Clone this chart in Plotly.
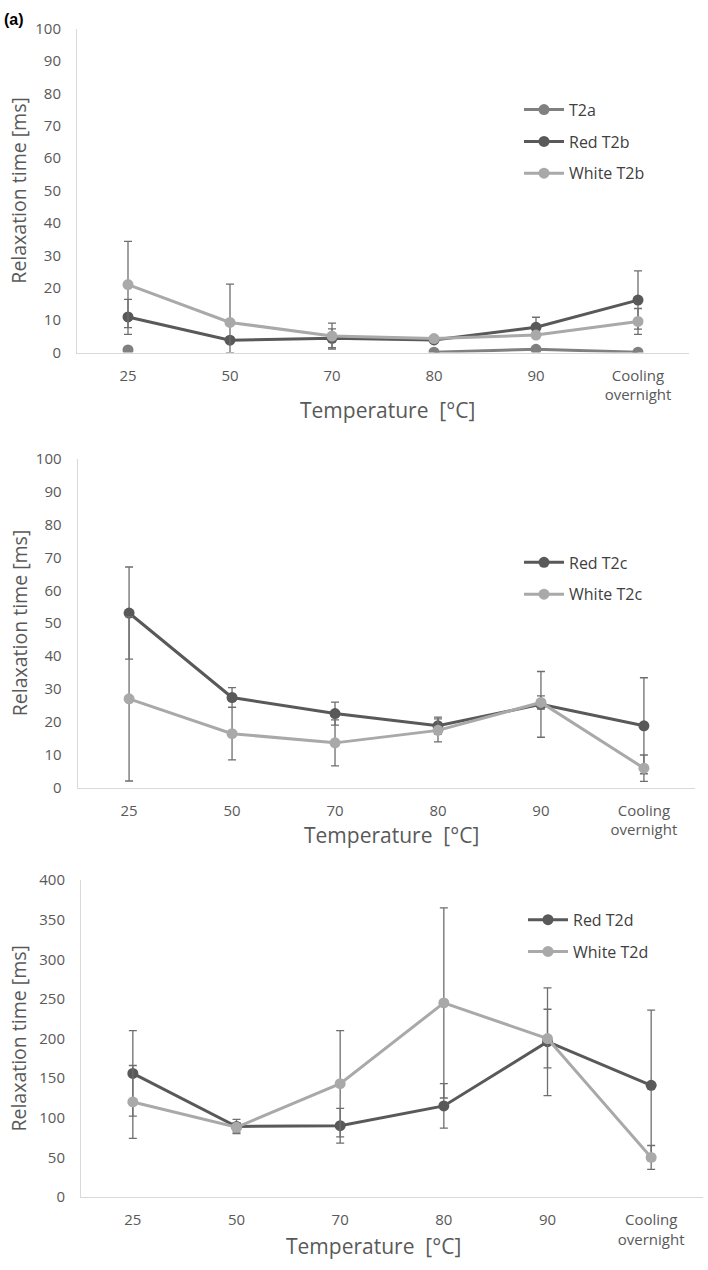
import plotly.graph_objects as go

# ---------------- data ----------------
categories = ["25", "50", "70", "80", "90", "Cooling<br>overnight"]

# panel 1
t2a = [0.8, None, None, 0.1, 1.0, 0.1]
red_t2b = [11.0, 3.8, 4.4, 3.9, 7.8, 16.2]
red_t2b_err = [5.4, 1.0, 2.9, 0.5, 3.1, 9.0]
white_t2b = [21.0, 9.3, 5.1, 4.3, 5.4, 9.6]
white_t2b_err_plus = [13.3, 11.8, 4.0, 0.5, 1.0, 4.0]
white_t2b_err_minus = [13.3, 9.3, 4.0, 0.5, 1.0, 4.0]

# panel 2
red_t2c = [53.1, 27.4, 22.5, 18.8, 25.3, 18.8]
red_t2c_err = [14.0, 3.0, 3.5, 2.6, 10.0, 14.6]
white_t2c = [27.0, 16.4, 13.6, 17.4, 25.9, 5.9]
white_t2c_err = [25.0, 8.0, 7.0, 3.5, 2.0, 4.0]

# panel 3
red_t2d = [156, 89, 90, 115, 196, 141]
red_t2d_err = [54, 9, 22, 28, 68, 95]
white_t2d = [120, 88, 143, 245, 200, 50]
white_t2d_err = [46, 6, 67, 120, 37, 15]

# ---------------- style ----------------
FONT = "Open Sans, Lato, sans-serif"
C_RED = "#595959"
C_WHITE = "#a9a9a9"
C_T2A = "#808080"
C_ERR = "#6e6e6e"
C_TEXT = "#595959"
C_AXIS = "#d9d9d9"
W, H = 708, 1270


def px_x(v):
    return v / W


def px_y(v):
    return 1 - v / H


fig = go.Figure()


def add_series(name, y, xa, ya, color, legend, group, err_plus=None, err_minus=None):
    kw = {}
    if err_plus is not None:
        kw["error_y"] = dict(
            type="data",
            symmetric=err_minus is None,
            array=err_plus,
            arrayminus=err_minus,
            color=C_ERR,
            thickness=1.3,
            width=4,
        )
    fig.add_trace(
        go.Scatter(
            x=categories,
            y=y,
            name=name,
            mode="lines+markers",
            line=dict(color=color, width=3),
            marker=dict(color=color, size=11),
            connectgaps=False,
            xaxis=xa,
            yaxis=ya,
            legend=legend,
            legendgroup=group,
            **kw,
        )
    )


add_series("T2a", t2a, "x", "y", C_T2A, "legend", "a")
add_series("Red T2b", red_t2b, "x", "y", C_RED, "legend", "b", red_t2b_err)
add_series("White T2b", white_t2b, "x", "y", C_WHITE, "legend", "c",
           white_t2b_err_plus, white_t2b_err_minus)

add_series("Red T2c", red_t2c, "x2", "y2", C_RED, "legend2", "d", red_t2c_err)
add_series("White T2c", white_t2c, "x2", "y2", C_WHITE, "legend2", "e", white_t2c_err)

add_series("Red T2d", red_t2d, "x3", "y3", C_RED, "legend3", "f", red_t2d_err)
add_series("White T2d", white_t2d, "x3", "y3", C_WHITE, "legend3", "g", white_t2d_err)

panels = [
    # (x0, x1, ytop, ybottom, ymax, dtick)
    (77, 689, 18, 347, 100, 10),
    (77.6, 695.4, 455, 789, 100, 10),
    (81, 703, 883, 1205, 400, 50),
]

layout = dict(
    width=W,
    height=H,
    autosize=False,
    margin=dict(l=0, r=0, t=0, b=0),
    paper_bgcolor="white",
    plot_bgcolor="white",
    font=dict(family=FONT, color=C_TEXT, size=15),
)

for i, (x0, x1, yt, yb, ymax, dt) in enumerate(panels, start=1):
    sfx = "" if i == 1 else str(i)
    layout["xaxis" + sfx] = dict(
        domain=[px_x(x0), px_x(x1)],
        anchor="y" + sfx,
        type="category",
        range=[-0.5, 5.5],
        showline=True,
        linecolor=C_AXIS,
        linewidth=1,
        showgrid=False,
        zeroline=False,
        ticks="",
        ticklabelstandoff=9,
        tickfont=dict(family=FONT, size=15, color=C_TEXT),
        fixedrange=True,
    )
    layout["yaxis" + sfx] = dict(
        domain=[px_y(yb), px_y(yt)],
        anchor="x" + sfx,
        range=[0, ymax],
        dtick=dt,
        showline=True,
        linecolor=C_AXIS,
        linewidth=1,
        showgrid=False,
        zeroline=False,
        ticks="",
        ticklabelstandoff=12,
        tickfont=dict(family=FONT, size=15, color=C_TEXT),
        fixedrange=True,
    )

legend_common = dict(
    xref="paper",
    yref="paper",
    xanchor="left",
    yanchor="top",
    bgcolor="rgba(0,0,0,0)",
    font=dict(family=FONT, size=16, color="#404040"),
    tracegroupgap=8,
    itemwidth=40,
)
layout["legend"] = dict(legend_common, x=px_x(519), y=px_y(83))
layout["legend2"] = dict(legend_common, x=px_x(519), y=px_y(543))
layout["legend3"] = dict(legend_common, x=px_x(523), y=px_y(906))

fig.update_layout(**layout)

annotations = []
# y axis titles
for (x0, x1, yt, yb, ymax, dt) in panels:
    annotations.append(dict(
        text="Relaxation time [ms]",
        xref="paper", yref="paper",
        x=px_x(19), y=px_y((yt + yb) / 2),
        xanchor="center", yanchor="middle",
        textangle=-90, showarrow=False,
        font=dict(family=FONT, size=19.5, color=C_TEXT),
    ))
# x axis titles
for cx, cy in [(387, 405), (391, 837), (373, 1255)]:
    annotations.append(dict(
        text="Temperature  [°C]",
        xref="paper", yref="paper",
        x=px_x(cx), y=px_y(cy),
        xanchor="center", yanchor="middle",
        showarrow=False,
        font=dict(family=FONT, size=21, color=C_TEXT),
    ))
annotations.append(dict(
    text="<b>(a)</b>",
    xref="paper", yref="paper",
    x=px_x(2), y=px_y(9),
    xanchor="left", yanchor="middle",
    showarrow=False,
    font=dict(family="Liberation Sans, Arial, sans-serif", size=16, color="#000000"),
))
fig.update_layout(annotations=annotations)

# remove the browser's default 8px page margin so the figure sits at (0, 0)
fig.write_html(
    "out.html",
    config={"displayModeBar": False},
    post_script="document.body.style.margin='0';document.body.style.padding='0';",
)
